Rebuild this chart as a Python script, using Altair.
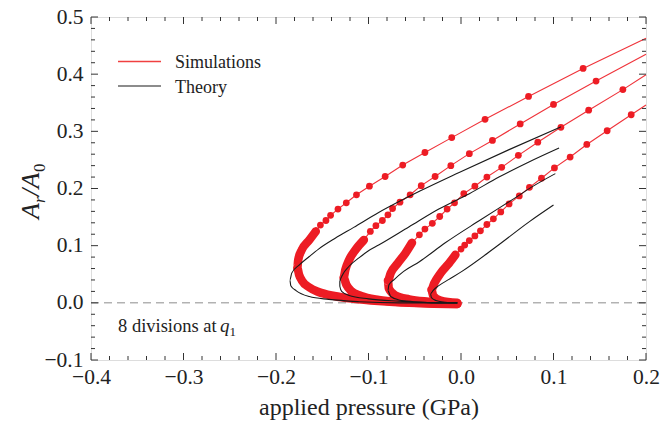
import altair as alt
import pandas as pd

# ---- Simulation runs: applied pressure (GPa) vs real contact area A_r/A_0 ----
# "upper": sparse markers along the loading branch (first entry is where the line meets the frame)
# "turn": densely packed markers around the turning point and the tail along A_r/A_0 = 0
sim1_upper = [(0.200, 0.463), (0.132, 0.410), (0.073, 0.361), (0.026, 0.321), (-0.010, 0.289),
              (-0.039, 0.263), (-0.063, 0.241), (-0.082, 0.221), (-0.099, 0.204), (-0.113, 0.189),
              (-0.124, 0.175), (-0.133, 0.164), (-0.141, 0.153), (-0.146, 0.144), (-0.152, 0.136)]
sim1_turn = [(-0.157, 0.125), (-0.164, 0.110), (-0.172, 0.093), (-0.176, 0.075), (-0.177, 0.061),
             (-0.175, 0.049), (-0.172, 0.039), (-0.164, 0.027), (-0.154, 0.019), (-0.137, 0.012),
             (-0.116, 0.007), (-0.089, 0.003), (-0.056, 0.000), (-0.024, -0.001), (-0.004, -0.002)]

sim2_upper = [(0.200, 0.435), (0.146, 0.388), (0.100, 0.347), (0.064, 0.313), (0.034, 0.284),
              (0.009, 0.261), (-0.011, 0.240), (-0.028, 0.221), (-0.043, 0.205), (-0.055, 0.189),
              (-0.066, 0.176), (-0.074, 0.165), (-0.079, 0.154), (-0.085, 0.144), (-0.092, 0.135),
              (-0.098, 0.125)]
sim2_turn = [(-0.105, 0.110), (-0.114, 0.093), (-0.121, 0.075), (-0.125, 0.058), (-0.127, 0.044),
             (-0.124, 0.032), (-0.119, 0.021), (-0.108, 0.012), (-0.089, 0.005), (-0.062, 0.001),
             (-0.035, -0.001), (-0.004, -0.002)]

sim3_upper = [(0.200, 0.399), (0.175, 0.373), (0.138, 0.337), (0.108, 0.307), (0.083, 0.281),
              (0.062, 0.258), (0.044, 0.237), (0.028, 0.220), (0.015, 0.204), (0.003, 0.191),
              (-0.007, 0.175), (-0.015, 0.164), (-0.023, 0.151), (-0.031, 0.139), (-0.039, 0.129),
              (-0.045, 0.119)]
sim3_turn = [(-0.053, 0.105), (-0.060, 0.087), (-0.068, 0.070), (-0.076, 0.052), (-0.079, 0.039),
             (-0.078, 0.025), (-0.071, 0.013), (-0.056, 0.006), (-0.035, 0.002), (-0.004, -0.001)]

sim4_upper = [(0.200, 0.346), (0.184, 0.329), (0.158, 0.301), (0.136, 0.277), (0.118, 0.255),
              (0.101, 0.236), (0.087, 0.218), (0.074, 0.202), (0.063, 0.187), (0.052, 0.173),
              (0.043, 0.159), (0.035, 0.147), (0.028, 0.137), (0.021, 0.126), (0.015, 0.117),
              (0.009, 0.109), (0.004, 0.101), (-0.000, 0.094)]
sim4_turn = [(-0.006, 0.084), (-0.013, 0.069), (-0.022, 0.052), (-0.029, 0.034), (-0.032, 0.023),
             (-0.030, 0.012), (-0.022, 0.004), (-0.004, 0.000)]

# ---- Theory curves ----
theory1 = [(0.108, 0.308), (0.052, 0.268), (-0.002, 0.228), (-0.045, 0.195), (-0.089, 0.158),
           (-0.116, 0.132), (-0.136, 0.113), (-0.154, 0.094), (-0.164, 0.081), (-0.175, 0.066),
           (-0.183, 0.052), (-0.185, 0.040), (-0.184, 0.030), (-0.178, 0.021), (-0.164, 0.011),
           (-0.143, 0.006), (-0.110, 0.002), (-0.067, 0.000), (-0.024, 0.000), (-0.004, 0.000)]
theory2 = [(0.106, 0.271), (0.074, 0.247), (0.041, 0.220), (0.009, 0.191), (-0.024, 0.164),
           (-0.056, 0.133), (-0.089, 0.101), (-0.100, 0.091), (-0.110, 0.079), (-0.121, 0.064),
           (-0.128, 0.049), (-0.131, 0.037), (-0.131, 0.029), (-0.129, 0.020), (-0.121, 0.013),
           (-0.100, 0.007), (-0.067, 0.003), (-0.024, 0.000), (-0.004, 0.000)]
theory3 = [(0.102, 0.226), (0.079, 0.205), (0.056, 0.181), (0.020, 0.144), (-0.017, 0.105),
           (-0.045, 0.072), (-0.062, 0.055), (-0.072, 0.041), (-0.078, 0.031), (-0.079, 0.021),
           (-0.076, 0.011), (-0.067, 0.005), (-0.051, 0.002), (-0.024, 0.000), (-0.004, 0.000)]
theory4 = [(0.100, 0.171), (0.074, 0.142), (0.038, 0.098), (0.001, 0.055), (-0.013, 0.041),
           (-0.024, 0.030), (-0.030, 0.022), (-0.033, 0.016), (-0.032, 0.009), (-0.027, 0.004),
           (-0.017, 0.001), (-0.004, 0.000)]

# ---- Axis ticks ----
x_major = [-0.4, -0.3, -0.2, -0.1, 0.0, 0.1, 0.2]
y_major = [-0.1, 0.0, 0.1, 0.2, 0.3, 0.4, 0.5]
x_minor = [round(-0.4 + 0.02 * k, 2) for k in range(31) if k % 5]
y_minor = [round(-0.1 + 0.02 * k, 2) for k in range(31) if k % 5]

W, H = 555, 343
RED = "#ED1C24"
FRAME = "#333333"
SERIF = "Liberation Serif"

sim_rows = []
for run, (upper, turn) in enumerate([(sim1_upper, sim1_turn), (sim2_upper, sim2_turn),
                                     (sim3_upper, sim3_turn), (sim4_upper, sim4_turn)]):
    for i, (p, a) in enumerate(upper + turn):
        sim_rows.append({"run": run, "i": i, "p": p, "a": a,
                         "part": "upper" if i < len(upper) else "turn"})
sim = pd.DataFrame(sim_rows)

th_rows = []
for run, curve in enumerate([theory1, theory2, theory3, theory4]):
    for i, (p, a) in enumerate(curve):
        th_rows.append({"run": run, "i": i, "p": p, "a": a})
theory = pd.DataFrame(th_rows)

xs = alt.Scale(domain=[-0.4, 0.2], nice=False, zero=False)
ys = alt.Scale(domain=[-0.1, 0.5], nice=False, zero=False)

x_axis = alt.Axis(values=x_major, format=".1f", grid=False, ticks=False, domain=False,
                  labelFont=SERIF, labelFontSize=21.5, labelColor="#222", labelPadding=6,
                  labelFlush=False, title="applied pressure (GPa)", titleFont=SERIF,
                  titleFontSize=24, titleFontWeight="normal", titleColor="#222", titlePadding=8)
y_axis = alt.Axis(values=y_major, format=".1f", grid=False, ticks=False, domain=False,
                  labelFont=SERIF, labelFontSize=21.5, labelColor="#222", labelPadding=8,
                  labelFlush=False, title=None)

X = alt.X("p:Q", scale=xs, axis=x_axis)
Y = alt.Y("a:Q", scale=ys, axis=y_axis)

zero_line = alt.Chart(pd.DataFrame({"a": [0.0]})).mark_rule(
    strokeWidth=1, strokeDash=[8, 5]
).encode(y=alt.Y("a:Q", scale=ys), x=alt.value(0), x2=alt.value(W),
         color=alt.value("#8c8c8c"))

sim_line = alt.Chart(sim).mark_line(strokeWidth=1.1, opacity=0.9).encode(
    x=X, y=Y, detail="run:N", order="i:Q", color=alt.value(RED))

sim_band = alt.Chart(sim).transform_filter(alt.datum.part == "turn").mark_line(
    strokeWidth=8.5, strokeCap="round", strokeJoin="round", interpolate="monotone"
).encode(x=alt.X("p:Q", scale=xs), y=alt.Y("a:Q", scale=ys), detail="run:N", order="i:Q",
         color=alt.value(RED))

sim_dots = alt.Chart(sim).transform_filter(alt.datum.p < 0.2).mark_circle(
    size=46, opacity=1
).encode(x=alt.X("p:Q", scale=xs), y=alt.Y("a:Q", scale=ys), color=alt.value(RED))

theory_line = alt.Chart(theory).mark_line(strokeWidth=1.1, interpolate="monotone").encode(
    x=alt.X("p:Q", scale=xs), y=alt.Y("a:Q", scale=ys), detail="run:N", order="i:Q",
    color=alt.value("#1a1a1a"))


def x_ticks(values, length):
    d = pd.DataFrame({"p": values})
    bottom = alt.Chart(d).mark_rule(strokeWidth=1).encode(
        x=alt.X("p:Q", scale=xs), y=alt.value(H), y2=alt.value(H - length),
        color=alt.value(FRAME))
    top = alt.Chart(d).mark_rule(strokeWidth=1).encode(
        x=alt.X("p:Q", scale=xs), y=alt.value(0), y2=alt.value(length),
        color=alt.value(FRAME))
    return [bottom, top]


def y_ticks(values, length):
    d = pd.DataFrame({"a": values})
    left = alt.Chart(d).mark_rule(strokeWidth=1).encode(
        y=alt.Y("a:Q", scale=ys), x=alt.value(0), x2=alt.value(length),
        color=alt.value(FRAME))
    right = alt.Chart(d).mark_rule(strokeWidth=1).encode(
        y=alt.Y("a:Q", scale=ys), x=alt.value(W), x2=alt.value(W - length),
        color=alt.value(FRAME))
    return [left, right]


one = pd.DataFrame({"k": [0]})


def text_at(txt, x, y, size, style="normal", angle=0, align="left", baseline="alphabetic"):
    kw = dict(font=SERIF, fontSize=size, fontStyle=style,
              align=align, baseline=baseline)
    if angle:
        kw["angle"] = angle
    return alt.Chart(one).mark_text(**kw).encode(
        x=alt.value(x), y=alt.value(y), text=alt.value(txt), color=alt.value("#222"))


def legend_line(y, colour, width):
    return alt.Chart(one).mark_rule(strokeWidth=width).encode(
        x=alt.value(27), x2=alt.value(70), y=alt.value(y), color=alt.value(colour))


legend = [
    legend_line(44.5, "#F04040", 1.3),
    legend_line(69, "#1a1a1a", 1.1),
    text_at("Simulations", 84, 51, 18),
    text_at("Theory", 84, 75.5, 18),
]

note = [
    text_at("8 divisions at", 27, 315, 18.5),
    text_at("q", 129, 315, 19, style="italic"),
    text_at("1", 138.5, 319, 13),
]

# rotated y title: A_r / A_0
ytitle = [
    text_at("A", -52, 202, 26, style="italic", angle=270),
    text_at("r", -46, 186, 17, style="italic", angle=270),
    text_at("/", -52, 179, 26, style="italic", angle=270),
    text_at("A", -52, 171.5, 26, style="italic", angle=270),
    text_at("0", -46, 155, 17, angle=270),
]

layers = ([zero_line, sim_line, sim_band, sim_dots, theory_line]
          + x_ticks(x_major, 7) + x_ticks(x_minor, 4)
          + y_ticks(y_major, 7) + y_ticks(y_minor, 4)
          + legend + note + ytitle)

chart = alt.layer(*layers).properties(
    width=W, height=H,
    autosize=alt.AutoSizeParams(type="none"),
    padding={"left": 91, "top": 17, "right": 24, "bottom": 72},
).configure_view(stroke=FRAME, strokeWidth=1.3).configure(background="white")

chart.save("out.html", embed_options={"renderer": "svg", "actions": False})
